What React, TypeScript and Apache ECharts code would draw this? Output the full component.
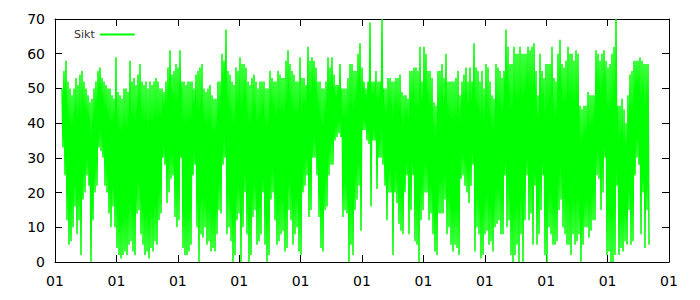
import React, { useEffect, useRef } from "react";
import * as echarts from "echarts";

const seriesName = "Sikt";
const xTickLabel = "01";
const xMin = 0;
const xMax = 300;
const xInterval = 30;
const yMin = 0;
const yMax = 70;
const yInterval = 10;

// Sampling of the readings along the x axis (days)
const START_DAY = 3.42;
const STEP_DAY = 0.4886;

// Highest reading of each short stretch
const siktMax: number[] = [
  // A
  50, 55, 58, 52, 50, 48, 50, 53, 51, 54, 55, 52, 50, 48, 46, 47, 50, 52, 55, 56, 53, 52, 51, 50, 50,
  // B
  48, 47, 59, 49, 48, 47, 50, 50, 49, 58, 52, 53, 51, 54, 57, 52, 51, 52, 50, 52, 51, 52, 53, 52, 50,
  // C
  50, 49, 52, 56, 61, 54, 55, 57, 56, 61, 52, 52, 51, 52, 52, 52, 50, 54, 55, 56, 57, 50, 49, 50, 51,
  // D
  48, 47, 47, 52, 52, 60, 58, 67, 55, 54, 52, 51, 56, 55, 59, 57, 57, 56, 52, 51, 53, 54, 52, 50, 52,
  // E
  52, 52, 50, 50, 55, 53, 52, 52, 55, 54, 53, 53, 58, 61, 57, 55, 54, 52, 52, 59, 53, 53, 51, 62, 58,
  // F
  59, 58, 56, 52, 52, 50, 50, 52, 59, 56, 59, 54, 51, 51, 57, 50, 50, 50, 53, 57, 57, 55, 55, 60, 63,
  // G
  56, 52, 50, 52, 69, 52, 52, 55, 52, 52, 70, 50, 50, 53, 53, 52, 52, 53, 53, 54, 49, 48, 48, 47, 55,
  // H
  55, 56, 56, 55, 62, 52, 62, 60, 55, 55, 53, 46, 45, 55, 55, 57, 53, 60, 52, 52, 52, 52, 53, 55, 48,
  // I
  52, 54, 56, 52, 56, 52, 63, 56, 55, 52, 55, 50, 57, 56, 52, 48, 47, 57, 56, 55, 53, 55, 67, 62, 57,
  // J
  57, 62, 60, 60, 62, 60, 60, 60, 62, 61, 62, 63, 55, 48, 60, 55, 53, 57, 57, 57, 62, 53, 52, 60, 64,
  // K
  57, 56, 58, 62, 60, 60, 58, 61, 60, 45, 44, 45, 45, 49, 48, 48, 48, 61, 60, 58, 60, 61, 58, 56, 57,
  // L
  60, 62, 70, 45, 45, 47, 44, 40, 48, 54, 55, 58, 58, 58, 59, 58, 57, 57, 57,
];

// Lowest reading of each short stretch
const siktMin: number[] = [
  // A
  33, 25, 12, 5, 6, 10, 16, 8, 12, 2, 18, 20, 25, 22, 0, 12, 20, 22, 33, 32, 30, 22, 20, 14, 10,
  // B
  16, 10, 4, 2, 1, 2, 3, 2, 5, 6, 3, 2, 14, 15, 8, 5, 2, 3, 1, 4, 3, 6, 5, 12, 14,
  // C
  30, 28, 17, 20, 24, 25, 13, 10, 12, 30, 4, 2, 2, 3, 5, 25, 28, 10, 0, 8, 7, 10, 5, 6, 3,
  // D
  4, 3, 8, 15, 14, 28, 30, 8, 10, 6, 0, 2, 12, 14, 0, 10, 20, 8, 0, 2, 13, 15, 5, 6, 8,
  // E
  20, 5, 0, 2, 18, 20, 12, 5, 6, 8, 9, 3, 4, 15, 12, 5, 8, 10, 3, 2, 20, 22, 25, 13, 15,
  // F
  30, 30, 25, 13, 4, 3, 15, 16, 25, 28, 28, 35, 36, 37, 36, 13, 15, 14, 0, 5, 2, 15, 18, 22, 9,
  // G
  38, 38, 35, 34, 16, 35, 35, 21, 30, 30, 28, 22, 12, 20, 20, 2, 20, 17, 11, 9, 8, 20, 25, 8, 15,
  // H
  25, 6, 5, 0, 12, 15, 20, 20, 12, 14, 8, 3, 2, 14, 14, 14, 18, 8, 10, 5, 3, 5, 4, 2, 24,
  // I
  25, 22, 20, 17, 22, 28, 3, 10, 8, 1, 2, 8, 9, 5, 6, 3, 10, 11, 12, 8, 8, 25, 10, 12, 2,
  // J
  0, 2, 5, 0, 8, 0, 12, 25, 12, 14, 5, 22, 5, 8, 15, 25, 2, 0, 10, 8, 5, 5, 6, 15, 18,
  // K
  10, 8, 5, 5, 2, 8, 5, 6, 8, 0, 5, 10, 10, 7, 9, 12, 12, 25, 24, 15, 20, 30, 2, 3, 0,
  // L
  0, 2, 22, 2, 4, 3, 6, 5, 15, 5, 6, 25, 30, 28, 8, 20, 4, 15, 5,
];

const FONT = "DejaVu Sans";

export default function App() {
  const ref = useRef<HTMLDivElement>(null);

  useEffect(() => {
    if (!ref.current) return;
    const chart = echarts.init(ref.current, null, { renderer: "svg" });

    // Readings in time order: high then low for every stretch
    const values: number[] = [];
    for (let k = 0; k < siktMax.length; k++) {
      values.push(siktMax[k], siktMin[k]);
    }
    const data = values.map((v, i) => [START_DAY + i * STEP_DAY, v]);

    const axisLine = { show: true, onZero: false, lineStyle: { color: "#000", width: 1 } };
    const tick = { show: true, inside: true, length: 7, lineStyle: { color: "#000", width: 1 } };

    const xBase = {
      type: "value" as const,
      min: xMin,
      max: xMax,
      interval: xInterval,
      axisLine,
      axisTick: tick,
      splitLine: { show: false },
    };
    const yBase = {
      type: "value" as const,
      min: yMin,
      max: yMax,
      interval: yInterval,
      axisLine,
      axisTick: tick,
      splitLine: { show: false },
    };

    chart.setOption({
      animation: false,
      backgroundColor: "#fff",
      grid: { left: 55, right: 31, top: 19, bottom: 38, containLabel: false },
      legend: {
        data: [seriesName],
        left: 74,
        top: 29,
        padding: 0,
        align: "right",
        icon: "rect",
        itemWidth: 35,
        itemHeight: 2,
        textStyle: { fontSize: 11, fontFamily: FONT, color: "#333" },
      },
      xAxis: [
        {
          ...xBase,
          position: "bottom",
          axisLabel: {
            formatter: () => xTickLabel,
            color: "#000",
            fontSize: 14,
            fontFamily: FONT,
            margin: 12,
          },
        },
        {
          ...xBase,
          position: "top",
          axisLabel: { show: false },
        },
      ],
      yAxis: [
        {
          ...yBase,
          position: "left",
          axisLabel: { color: "#000", fontSize: 14, fontFamily: FONT, margin: 10 },
        },
        {
          ...yBase,
          position: "right",
          axisLabel: { show: false },
        },
      ],
      series: [
        {
          name: seriesName,
          type: "line",
          data,
          showSymbol: false,
          symbol: "none",
          color: "#00ff00",
          lineStyle: { color: "#00ff00", width: 1.5 },
          xAxisIndex: 0,
          yAxisIndex: 0,
          clip: true,
        },
      ],
    });

    return () => chart.dispose();
  }, []);

  return (
    <div
      ref={ref}
      style={{ position: "fixed", left: 0, top: 0, width: 700, height: 300, background: "#fff" }}
    />
  );
}
